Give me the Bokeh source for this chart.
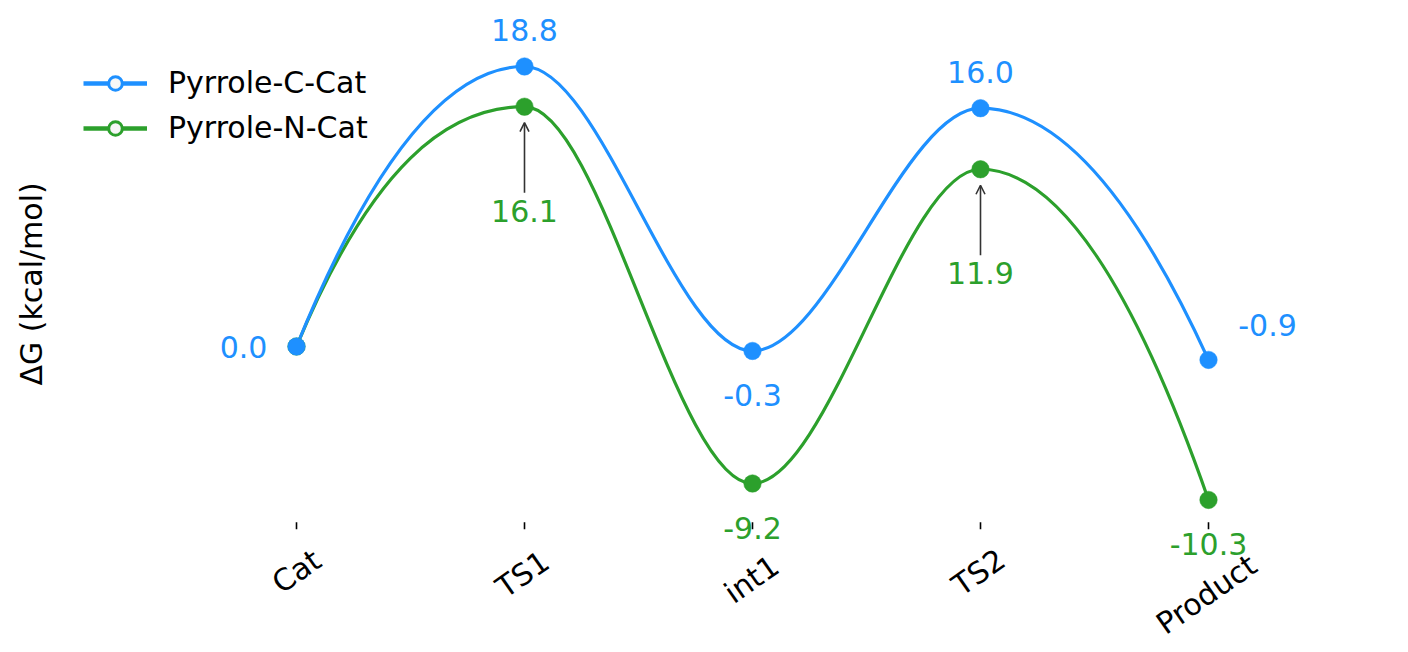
import numpy as np
from bokeh.plotting import figure
from bokeh.models import (ColumnDataSource, LabelSet, Label, Arrow, OpenHead,
                          Legend, LegendItem, Range1d)
from bokeh.core.properties import value
from bokeh.embed import file_html
from bokeh.resources import INLINE

# ---------------- data ----------------
stages = ["Cat", "TS1", "int1", "TS2", "Product"]
c_cat = [0.0, 18.8, -0.3, 16.0, -0.9]     # Pyrrole-C-Cat
n_cat = [0.0, 16.1, -9.2, 11.9, -10.3]    # Pyrrole-N-Cat
series_names = ["Pyrrole-C-Cat", "Pyrrole-N-Cat"]
n_label_idx = [1, 2, 3, 4]                # N-Cat points that carry a value label
y_title = "ΔG (kcal/mol)"

# ---------------- styles / layout ----------------
BLUE = "#1E90FF"
GREEN = "#2CA02C"
FONT = "DejaVu Sans"
FS = "30px"
W, H = 1392, 648
PX_X = 228.0            # px per stage
PX_Y = 14.894           # px per kcal/mol
ORIGIN = (296, 346)     # screen position of (Cat, 0)
X0 = -ORIGIN[0] / PX_X
X1 = X0 + W / PX_X
Y1 = ORIGIN[1] / PX_Y
Y0 = Y1 - H / PX_Y
AX_Y0, AX_Y1 = -11.8, 20.2   # visual axes extent (ticks sit on AX_Y0)

# label offsets in screen px (dx, dy up-positive)
c_lab_off = [(-53, 0), (0, 36), (0, -44), (0, 36), (59, 35)]
n_lab_off = [(0, -104), (0, -44), (0, -104), (0, -44)]
n_arrow = [True, False, True, False]
tick_dy = [49, 52, 57, 50, 72]
tick_dx = [0, -2, -1, -2, -2]

xs = list(range(len(stages)))

p = figure(width=W, height=H, x_range=Range1d(X0, X1), y_range=Range1d(Y0, Y1),
           output_backend="svg", toolbar_location=None,
           x_axis_type=None, y_axis_type=None,
           min_border_left=0, min_border_right=0, min_border_top=0, min_border_bottom=0)
p.outline_line_color = None
p.grid.visible = False
p.background_fill_color = "white"
p.border_fill_color = "white"


def pchip_slopes(y):
    """knot slopes of a shape-preserving (PCHIP) interpolant, equal spacing"""
    y = np.asarray(y, float)
    d = np.diff(y)
    m = np.zeros(len(y))
    for k in range(1, len(y) - 1):
        if d[k - 1] * d[k] > 0:
            m[k] = 2.0 / (1.0 / d[k - 1] + 1.0 / d[k])

    def edge(d0, d1):
        s = (3 * d0 - d1) / 2.0
        if np.sign(s) != np.sign(d0):
            return 0.0
        if np.sign(d0) != np.sign(d1) and abs(s) > abs(3 * d0):
            return 3 * d0
        return s
    m[0] = edge(d[0], d[1])
    m[-1] = edge(d[-1], d[-2])
    return m


def curve_source(y):
    m = pchip_slopes(y)
    x = np.asarray(xs, float)
    y = np.asarray(y, float)
    return ColumnDataSource(dict(
        x0=x[:-1], y0=y[:-1], x1=x[1:], y1=y[1:],
        cx0=x[:-1] + 1 / 3, cy0=y[:-1] + m[:-1] / 3,
        cx1=x[1:] - 1 / 3, cy1=y[1:] - m[1:] / 3))


for vals, col in ((n_cat, GREEN), (c_cat, BLUE)):
    p.bezier(x0="x0", y0="y0", x1="x1", y1="y1", cx0="cx0", cy0="cy0",
             cx1="cx1", cy1="cy1", source=curve_source(vals),
             line_color=col, line_width=3.2)
for vals, col in ((n_cat, GREEN), (c_cat, BLUE)):
    p.scatter(x=xs, y=vals, size=17.5, fill_color=col, line_color=col, line_width=0.5)

# tick marks on the bottom of the axes
tick_len = 7 / PX_Y
p.segment(x0=xs, y0=[AX_Y0] * len(xs), x1=xs, y1=[AX_Y0 - tick_len] * len(xs),
          line_color="black", line_width=1.6)

# value labels
c_src = ColumnDataSource(dict(x=xs, y=c_cat, text=[f"{v:.1f}" for v in c_cat],
                              xo=[o[0] for o in c_lab_off], yo=[o[1] for o in c_lab_off]))
n_src = ColumnDataSource(dict(x=[xs[i] for i in n_label_idx], y=[n_cat[i] for i in n_label_idx],
                              text=[f"{n_cat[i]:.1f}" for i in n_label_idx],
                              xo=[o[0] for o in n_lab_off], yo=[o[1] for o in n_lab_off]))
for src, col in ((c_src, BLUE), (n_src, GREEN)):
    p.add_layout(LabelSet(x="x", y="y", text="text", x_offset="xo", y_offset="yo",
                          source=src, text_align="center", text_baseline="middle",
                          text_color=col, text_font_size=FS, text_font=value(FONT)))

# arrows from the lower labels to their points
for k, i in enumerate(n_label_idx):
    if n_arrow[k]:
        v = n_cat[i]
        p.add_layout(Arrow(end=OpenHead(size=9, line_color="#333333", line_width=1.6),
                           x_start=xs[i], y_start=v - 86 / PX_Y,
                           x_end=xs[i], y_end=v - 16 / PX_Y,
                           line_color="#333333", line_width=1.6))

# rotated category labels
t_src = ColumnDataSource(dict(x=xs, y=[AX_Y0] * len(xs), text=stages,
                              xo=tick_dx, yo=[-d for d in tick_dy]))
p.add_layout(LabelSet(x="x", y="y", text="text", x_offset="xo", y_offset="yo",
                      source=t_src, angle=np.deg2rad(35), text_align="center",
                      text_baseline="middle", text_color="black",
                      text_font_size=FS, text_font=value(FONT)))

# y-axis title
p.add_layout(Label(x=31, x_units="screen", y=(AX_Y0 + AX_Y1) / 2, y_units="data",
                   text=y_title, angle=np.pi / 2, text_align="center",
                   text_baseline="middle", text_color="black",
                   text_font_size=FS, text_font=FONT))

# legend with open-circle handles
items = []
for name, col in zip(series_names, (BLUE, GREEN)):
    lr = p.line(x=[np.nan], y=[np.nan], line_color=col, line_width=4.5)
    sr = p.scatter(x=[np.nan], y=[np.nan], size=14, line_color=col, line_width=3,
                   fill_color="#f7f7f7")
    items.append(LegendItem(label=name, renderers=[lr, sr]))
legend = Legend(items=items, location=(83, 491 + (H - 636)), margin=0, padding=0,
                border_line_color=None, background_fill_alpha=0,
                label_text_font=FONT, label_text_font_size=FS, label_text_color="black",
                glyph_width=64, glyph_height=34, label_height=34,
                label_standoff=21, spacing=10)
p.add_layout(legend)

open("out.html", "w").write(file_html(p, INLINE))
